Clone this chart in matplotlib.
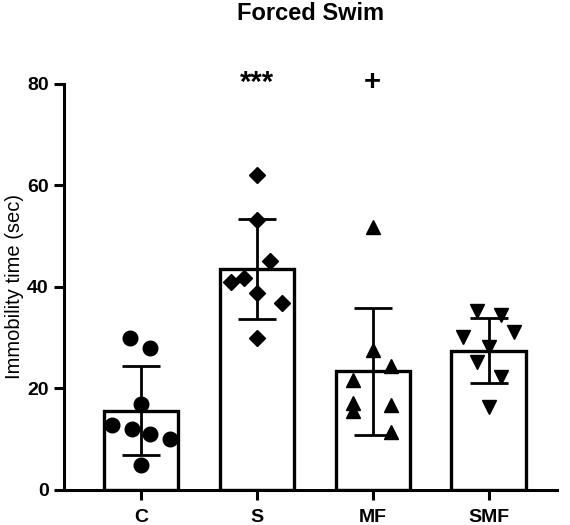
import matplotlib.pyplot as plt

plt.rcParams['font.family'] = ['Liberation Sans', 'DejaVu Sans']

groups = ['C', 'S', 'MF', 'SMF']
means = [15.6, 43.5, 23.4, 27.4]
sds = [8.8, 9.9, 12.5, 6.4]

# individual animals, (x offset, value)
c_pts = [(-0.09, 30.0), (0.08, 27.9), (0.0, 16.9), (-0.25, 12.9),
         (-0.08, 12.0), (0.08, 11.0), (0.25, 10.0), (0.0, 4.9)]
s_pts = [(0.0, 62.1), (0.0, 53.2), (0.11, 45.1), (-0.11, 41.8),
         (-0.22, 40.9), (0.0, 38.9), (0.22, 36.9), (0.0, 29.9)]
mf_pts = [(0.0, 51.9), (0.0, 27.6), (0.16, 24.4), (-0.17, 21.7),
          (-0.17, 17.1), (-0.17, 15.6), (0.16, 16.7), (0.16, 11.5)]
smf_pts = [(-0.1, 35.3), (0.11, 34.5), (0.22, 31.2), (-0.22, 30.2),
           (0.0, 28.2), (-0.1, 25.3), (0.11, 22.3), (0.0, 16.3)]
points = [c_pts, s_pts, mf_pts, smf_pts]
markers = ['o', 'D', '^', 'v']
msizes = [10.5, 8.5, 10.5, 10.5]

stars = {1: '***', 2: '+'}

fig = plt.figure(figsize=(5.7, 5.25), dpi=100)
ax = fig.add_axes([0.112, 0.0667, 0.865, 0.7733])

x = range(len(groups))
ax.bar(x, means, width=0.64, color='white', edgecolor='black', linewidth=2.4, zorder=1)
for i, pts in enumerate(points):
    xs = [i + dx for dx, v in pts]
    ys = [v for dx, v in pts]
    ax.plot(xs, ys, linestyle='none', marker=markers[i], markersize=msizes[i],
            color='black', zorder=3)
ax.errorbar(x, means, yerr=sds, fmt='none', ecolor='black', elinewidth=2,
            capsize=13.5, capthick=2, zorder=4)

for i, s in stars.items():
    ax.text(i, 80.3, s, ha='center', va='center', fontsize=21, fontweight='bold')

ax.set_xlim(-0.665, 3.59)
ax.set_ylim(0, 80)
ax.set_yticks([0, 20, 40, 60, 80])
ax.set_xticks(list(x))
ax.set_xticklabels(groups)
ax.set_ylabel('Immobility time (sec)', fontsize=14.5, labelpad=2)
ax.set_title('Forced Swim', fontsize=17, fontweight='bold', pad=46)

for side in ['top', 'right']:
    ax.spines[side].set_visible(False)
for side in ['left', 'bottom']:
    ax.spines[side].set_linewidth(2.2)
ax.tick_params(axis='both', width=2.2, labelsize=14)
ax.tick_params(axis='y', length=7.5)
ax.tick_params(axis='x', length=7.5, pad=6)
for lbl in ax.get_xticklabels() + ax.get_yticklabels():
    lbl.set_fontweight('bold')

fig.savefig('out.png', dpi=100)
